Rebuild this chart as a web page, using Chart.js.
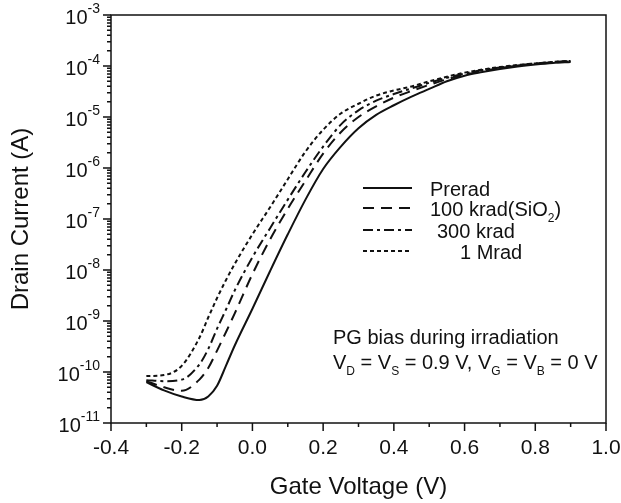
<!DOCTYPE html>
<html>
<head>
<meta charset="utf-8">
<script src="https://cdn.jsdelivr.net/npm/chart.js@4.4.1/dist/chart.umd.min.js"></script>
<style>
  html, body { margin: 0; padding: 0; background: #fff; }
  #wrap { width: 621px; height: 503px; }
</style>
</head>
<body>
<div id="wrap"><canvas id="idChart" width="621" height="503"></canvas></div>
<script>
// Gate voltage (V)
const gateVoltage = [-0.3, -0.25, -0.2, -0.15, -0.125, -0.1, -0.075, -0.05, 0, 0.05, 0.1, 0.15, 0.2, 0.25,
                     0.3, 0.35, 0.4, 0.45, 0.5, 0.55, 0.6, 0.65, 0.7, 0.75, 0.8, 0.85, 0.9];

// Drain current (A)
const prerad = [6.31e-11, 4.37e-11, 3.31e-11, 2.82e-11, 3.31e-11, 5.37e-11, 1.32e-10, 3.31e-10, 1.74e-9, 9.55e-9,
                5.01e-8, 2.40e-7, 9.55e-7, 2.63e-6, 6.03e-6, 1.10e-5, 1.70e-5, 2.51e-5, 3.55e-5, 5.01e-5,
                6.46e-5, 7.59e-5, 8.71e-5, 9.77e-5, 1.07e-4, 1.15e-4, 1.20e-4];
const krad100 = [6.61e-11, 5.01e-11, 4.27e-11, 7.08e-11, 1.20e-10, 2.63e-10, 6.03e-10, 1.41e-9, 8.32e-9, 3.98e-8,
                 1.58e-7, 5.62e-7, 1.91e-6, 5.01e-6, 1.00e-5, 1.62e-5, 2.40e-5, 3.24e-5, 4.27e-5, 5.50e-5,
                 6.76e-5, 7.94e-5, 9.12e-5, 1.02e-4, 1.12e-4, 1.17e-4, 1.23e-4];
const krad300 = [6.92e-11, 6.61e-11, 7.08e-11, 1.41e-10, 2.82e-10, 7.08e-10, 1.66e-9, 3.98e-9, 1.78e-8, 6.61e-8,
                 2.40e-7, 8.32e-7, 2.63e-6, 7.08e-6, 1.35e-5, 2.09e-5, 2.82e-5, 3.63e-5, 4.68e-5, 5.89e-5,
                 7.08e-5, 8.32e-5, 9.33e-5, 1.02e-4, 1.12e-4, 1.20e-4, 1.26e-4];
const mrad1 = [8.32e-11, 8.71e-11, 1.32e-10, 4.68e-10, 1.17e-9, 2.82e-9, 6.31e-9, 1.32e-8, 5.01e-8, 1.70e-7,
               6.03e-7, 2.09e-6, 5.62e-6, 1.17e-5, 1.82e-5, 2.63e-5, 3.31e-5, 3.98e-5, 5.01e-5, 6.17e-5,
               7.41e-5, 8.51e-5, 9.55e-5, 1.05e-4, 1.12e-4, 1.20e-4, 1.26e-4];

const xTicks = [-0.4, -0.2, 0, 0.2, 0.4, 0.6, 0.8, 1.0];
const yDecades = [1e-11, 1e-10, 1e-9, 1e-8, 1e-7, 1e-6, 1e-5, 1e-4, 1e-3];
const yExponents = ['-11', '-10', '-9', '-8', '-7', '-6', '-5', '-4', '-3'];

const FONT = '"Liberation Sans", Arial, Helvetica, sans-serif';
const INK = '#111';

function pts(ys) {
    return gateVoltage.map((v, i) => ({ x: v, y: ys[i] }));
}

// texte avec indices : [[texte, indice?], ...]
function drawRich(ctx, x, y, parts, size, subSize) {
    parts.forEach(p => {
        ctx.font = (p[1] ? subSize : size) + 'px ' + FONT;
        ctx.fillText(p[0], x, p[1] ? y + 6.5 : y);
        x += ctx.measureText(p[0]).width;
    });
}

function noPad(s) {
    s.paddingLeft = 0; s.paddingRight = 0; s.paddingTop = 0; s.paddingBottom = 0;
}

const extras = {
    id: 'extras',
    afterDraw(chart) {
        const { ctx, chartArea: a, scales: { x, y } } = chart;
        ctx.save();
        ctx.strokeStyle = INK;
        ctx.fillStyle = INK;
        ctx.lineWidth = 1.5;
        ctx.setLineDash([]);
        ctx.strokeRect(a.left, a.top, a.right - a.left, a.bottom - a.top);

        // x ticks (major 0.2, minor 0.1)
        ctx.beginPath();
        for (let i = -4; i <= 10; i++) {
            const px = x.getPixelForValue(i / 10);
            const len = i % 2 === 0 ? 8 : 4;
            ctx.moveTo(px, a.bottom);
            ctx.lineTo(px, a.bottom + len);
        }
        // y ticks (decades + minors)
        yDecades.forEach((d, k) => {
            const py = y.getPixelForValue(d);
            ctx.moveTo(a.left, py);
            ctx.lineTo(a.left - 8, py);
            if (k < yDecades.length - 1) {
                for (let m = 2; m <= 9; m++) {
                    const pm = y.getPixelForValue(d * m);
                    ctx.moveTo(a.left, pm);
                    ctx.lineTo(a.left - 4, pm);
                }
            }
        });
        ctx.stroke();

        // y tick labels 10^n
        ctx.textBaseline = 'alphabetic';
        ctx.textAlign = 'right';
        yDecades.forEach((d, k) => {
            const py = y.getPixelForValue(d);
            ctx.font = '14px ' + FONT;
            const ew = ctx.measureText(yExponents[k]).width;
            ctx.fillText(yExponents[k], 100, py - 2.5);
            ctx.font = '20px ' + FONT;
            ctx.fillText('10', 100 - ew, py + 8.5);
        });

        // legend
        ctx.textAlign = 'left';
        const rowY = [188, 208, 230, 251];
        const textX = [430, 430, 437, 460];
        const labels = [
            [['Prerad']],
            [['100 krad(SiO'], ['2', true], [')']],
            [['300 krad']],
            [['1 Mrad']]
        ];
        chart.data.datasets.forEach((ds, i) => {
            ctx.lineWidth = 2;
            ctx.setLineDash(ds.borderDash || []);
            ctx.beginPath();
            ctx.moveTo(363, rowY[i]);
            ctx.lineTo(412, rowY[i]);
            ctx.stroke();
            ctx.setLineDash([]);
            drawRich(ctx, textX[i], rowY[i] + 7.5, labels[i], 20, 12);
        });

        // annotation
        drawRich(ctx, 333, 343.5, [['PG bias during irradiation']], 20, 12);
        drawRich(ctx, 333, 368.5, [['V'], ['D', true], [' = V'], ['S', true], [' = 0.9 V, V'], ['G', true],
                                   [' = V'], ['B', true], [' = 0 V']], 20, 12);
        ctx.restore();
    }
};

window.onload = function() {
    const ctx = document.getElementById('idChart').getContext('2d');
    const base = { borderColor: INK, borderWidth: 2, pointRadius: 0, fill: false,
                   cubicInterpolationMode: 'monotone' };

    window.idChart = new Chart(ctx, {
        type: 'line',
        data: {
            datasets: [
                Object.assign({ label: 'Prerad', data: pts(prerad), borderDash: [] }, base),
                Object.assign({ label: '100 krad(SiO2)', data: pts(krad100), borderDash: [11, 7] }, base),
                Object.assign({ label: '300 krad', data: pts(krad300), borderDash: [10, 4, 3, 4] }, base),
                Object.assign({ label: '1 Mrad', data: pts(mrad1), borderDash: [4, 3] }, base)
            ]
        },
        options: {
            responsive: false,
            animation: false,
            devicePixelRatio: 1,
            layout: { padding: { top: 15, right: 15, left: 0, bottom: 0 } },
            plugins: { legend: { display: false }, tooltip: { enabled: false } },
            scales: {
                x: {
                    type: 'linear', min: -0.4, max: 1.0,
                    grid: { display: false, drawTicks: false },
                    border: { display: false },
                    afterBuildTicks: s => { s.ticks = xTicks.map(v => ({ value: v })); },
                    afterFit: s => { s.height = 80; noPad(s); },
                    ticks: { padding: 13, color: INK, font: { size: 21, family: FONT },
                             callback: v => Number(v).toFixed(1) },
                    title: { display: true, text: 'Gate Voltage (V)', color: INK,
                             font: { size: 24, family: FONT }, padding: { top: 0, bottom: 1 } }
                },
                y: {
                    type: 'logarithmic', min: 1e-11, max: 1e-3,
                    grid: { display: false, drawTicks: false },
                    border: { display: false },
                    ticks: { display: false },
                    afterFit: s => { s.width = 111; noPad(s); },
                    title: { display: true, text: 'Drain Current (A)', color: INK,
                             font: { size: 24, family: FONT }, padding: { top: 7, bottom: 0 } }
                }
            }
        },
        plugins: [extras]
    });
};
</script>
</body>
</html>
